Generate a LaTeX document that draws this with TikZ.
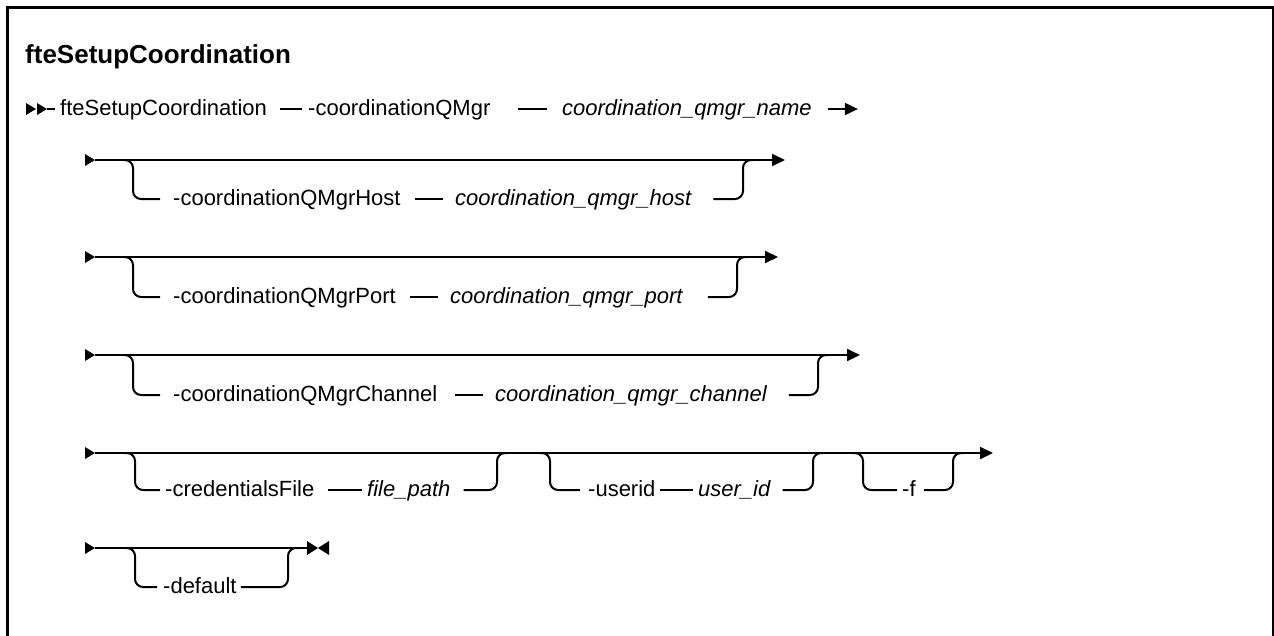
\documentclass[tikz,border=0pt]{standalone}
\usepackage{fontspec}
\setmainfont{Liberation Sans}
\usetikzlibrary{arrows.meta}
\begin{document}
\begin{tikzpicture}[x=1pt,y=-1pt,
  rail/.style={line width=2pt},
  br/.style={rail, rounded corners=8pt},
  endtip/.style={-{Triangle[length=13pt,width=12pt]}},
  lbl/.style={inner sep=0pt, anchor=west, text height=12pt, text depth=0pt, font=\fontsize{22}{26}\selectfont},
  ital/.style={lbl, font=\fontsize{22}{26}\selectfont\itshape},
  ttl/.style={inner sep=0pt, anchor=base west, font=\fontsize{26}{30}\selectfont\bfseries},
  startmark/.pic={\fill (-10,-6) -- (0,0) -- (-10,6) -- cycle;},
  stopmark/.pic={\fill (-11,-7) -- (0,0) -- (-11,7) -- cycle;
                 \fill (11,-7) -- (0,0) -- (11,7) -- cycle;},
]
\useasboundingbox (0,0) rectangle (1274,635);
\fill[white] (0,0) rectangle (1274,635);
% frame
\draw[line width=3pt] (7.5,645) -- (7.5,7.5) -- (1273,7.5);
\draw[line width=2pt] (1272.5,6) -- (1272.5,645);
% title
\node[ttl] (title) at (25,63) {fteSetupCoordination};
% ---- line 1
\node[lbl] (a1) at (60,109) {fteSetupCoordination};
\node[lbl] (b1) at (308,109) {-coordinationQMgr};
\node[ital] (c1) at (562,109) {coordination\_qmgr\_name};
\coordinate (s1) at (47,109);
\pic at (36,109) {startmark};
\pic at (s1) {startmark};
\draw[rail] (s1) -- ([xshift=-5pt]a1.west);
\draw[rail] ([xshift=-28pt]b1.west) -- ([xshift=-6pt]b1.west);
\draw[rail] ([xshift=-44pt]c1.west) -- ([xshift=-15pt]c1.west);
\draw[rail,endtip] ([xshift=16pt]c1.east) -- ([xshift=46pt]c1.east);
% ---- row 2
\coordinate (r2s) at (95,160); \coordinate (r2e) at (785,160);
\pic at (r2s) {startmark};
\draw[rail,endtip] (r2s) -- (r2e);
\node[lbl] (a2) at (173,199) {-coordinationQMgrHost};
\node[ital] (c2) at (455,199) {coordination\_qmgr\_host};
\draw[br] (123,160) -| (133,199) -- ([xshift=-13pt]a2.west);
\draw[rail] ([xshift=-40pt]c2.west) -- ([xshift=-12pt]c2.west);
\draw[br] ([xshift=22pt]c2.east) -| (743,160) -- (753,160);
% ---- row 3
\coordinate (r3s) at (95,257); \coordinate (r3e) at (778,257);
\pic at (r3s) {startmark};
\draw[rail,endtip] (r3s) -- (r3e);
\node[lbl] (a3) at (173,297) {-coordinationQMgrPort};
\node[ital] (c3) at (450,297) {coordination\_qmgr\_port};
\draw[br] (123,257) -| (133,297) -- ([xshift=-13pt]a3.west);
\draw[rail] ([xshift=-40pt]c3.west) -- ([xshift=-12pt]c3.west);
\draw[br] ([xshift=25pt]c3.east) -| (737,257) -- (747,257);
% ---- row 4
\coordinate (r4s) at (95,355); \coordinate (r4e) at (860,355);
\pic at (r4s) {startmark};
\draw[rail,endtip] (r4s) -- (r4e);
\node[lbl] (a4) at (173,395) {-coordinationQMgrChannel};
\node[ital] (c4) at (495,395) {coordination\_qmgr\_channel};
\draw[br] (123,355) -| (133,395) -- ([xshift=-13pt]a4.west);
\draw[rail] ([xshift=-40pt]c4.west) -- ([xshift=-12pt]c4.west);
\draw[br] ([xshift=22pt]c4.east) -| (818,355) -- (828,355);
% ---- row 5
\coordinate (r5s) at (95,453); \coordinate (r5e) at (993,453);
\pic at (r5s) {startmark};
\draw[rail,endtip] (r5s) -- (r5e);
\node[lbl] (a5) at (165,490) {-credentialsFile};
\node[ital] (b5) at (367,490) {file\_path};
\node[lbl] (c5) at (588,490) {-userid};
\node[ital] (d5) at (698,490) {user\_id};
\node[lbl] (e5) at (902,490) {-f};
\draw[br] (125,453) -| (135,490) -- ([xshift=-5pt]a5.west);
\draw[rail] ([xshift=-39pt]b5.west) -- ([xshift=-5pt]b5.west);
\draw[br] ([xshift=13pt]b5.east) -| (497,453) -- (507,453);
\draw[br] (540,453) -| (550,490) -- ([xshift=-8pt]c5.west);
\draw[rail] ([xshift=-38pt]d5.west) -- ([xshift=-5pt]d5.west);
\draw[br] ([xshift=12pt]d5.east) -| (813,453) -- (823,453);
\draw[br] (853,453) -| (863,490) -- ([xshift=-5pt]e5.west);
\draw[br] ([xshift=8pt]e5.east) -| (953,453) -- (963,453);
% ---- row 6
\coordinate (r6s) at (95,548); \coordinate (r6e) at (307,548);
\pic at (r6s) {startmark};
\draw[rail] (r6s) -- (r6e);
\pic at ([xshift=11pt]r6e) {stopmark};
\node[lbl] (f6) at (163,587) {-default};
\draw[br] (125,548) -| (135,587) -- ([xshift=-6pt]f6.west);
\draw[br] ([xshift=4pt]f6.east) -| (288,548) -- (298,548);
\end{tikzpicture}
\end{document}
